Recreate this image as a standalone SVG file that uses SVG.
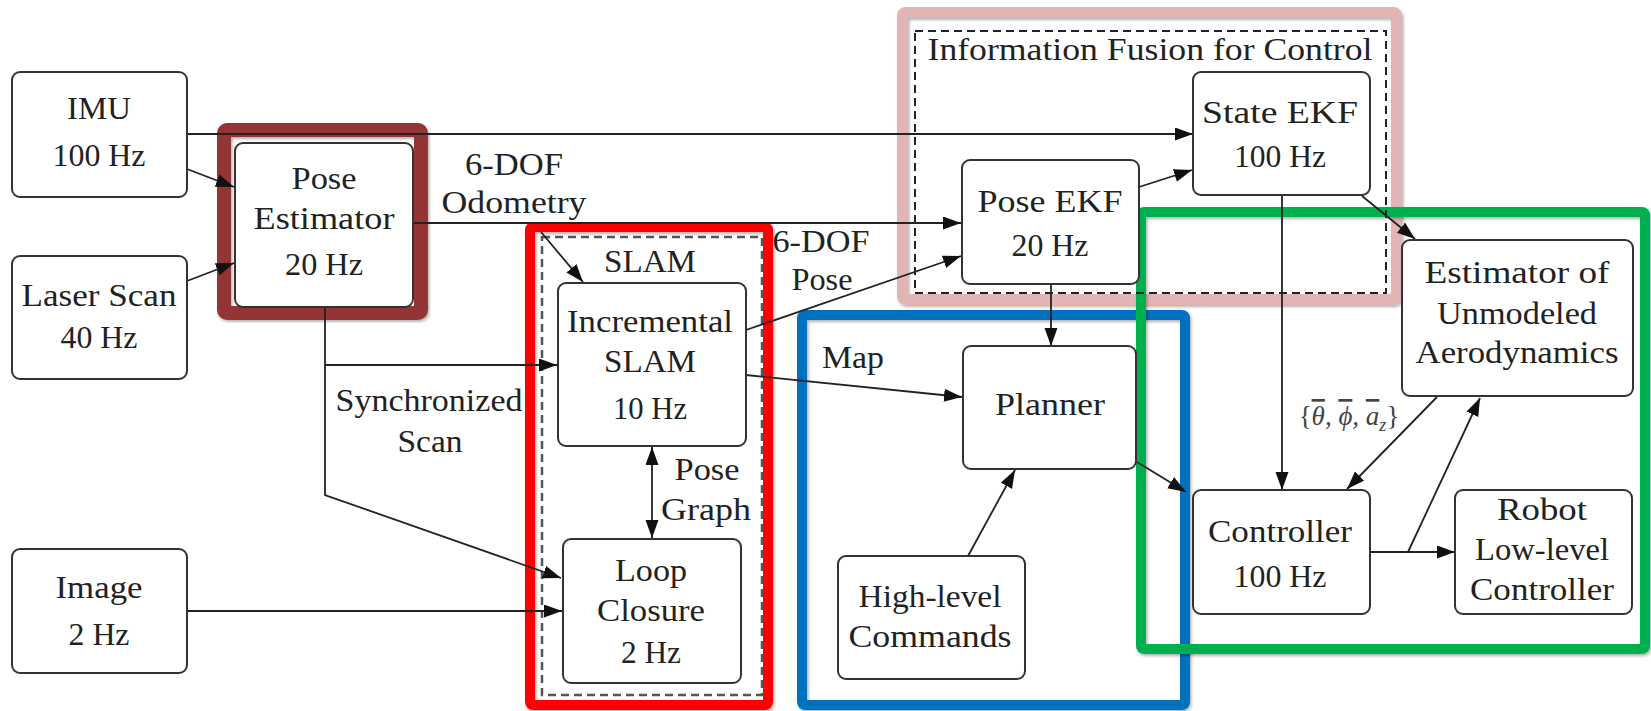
<svg xmlns="http://www.w3.org/2000/svg" width="1651" height="711" viewBox="0 0 1651 711">
<defs>
<marker id="arr" markerUnits="userSpaceOnUse" markerWidth="20" markerHeight="14" refX="18" refY="6.5" orient="auto-start-reverse">
<path d="M0,0 L18,6.5 L0,13 z" fill="#111"/>
</marker>
<filter id="sh" x="-5%" y="-5%" width="110%" height="110%">
<feDropShadow dx="1.5" dy="2" stdDeviation="1.5" flood-color="#000" flood-opacity="0.3"/>
</filter>
</defs>
<style>
text{font-family:"Liberation Serif","Times New Roman",serif;font-size:32px;fill:#222;text-anchor:middle}
.box{fill:#fff;stroke:#333;stroke-width:2}
.ln{fill:none;stroke:#222;stroke-width:1.8}
.ar{marker-end:url(#arr)}
.frame{fill:none;filter:url(#sh)}
.math{font-style:italic;font-size:27px;fill:#444}
</style>
<rect width="1651" height="711" fill="#fff"/>

<g id="highlights">
<rect class="frame" x="224" y="130" width="197" height="183" rx="3" stroke="#943634" stroke-width="14"/>
<rect class="frame" x="530" y="227" width="238" height="478" rx="3" stroke="#FF0000" stroke-width="10"/>
<rect class="frame" x="902.5" y="12.5" width="494" height="287" rx="3" stroke="#E3B4B4" stroke-width="11"/>
<rect class="frame" x="802" y="315" width="383" height="390" rx="3" stroke="#0070C0" stroke-width="10"/>
<rect class="frame" x="1141" y="212" width="504" height="437" rx="3" stroke="#00B050" stroke-width="10"/>
</g>

<g id="slam-group">
<rect x="542" y="237" width="220" height="458" fill="none" stroke="#555" stroke-width="2.5" stroke-dasharray="8 5"/>
<text x="650" y="272" textLength="92" lengthAdjust="spacingAndGlyphs">SLAM</text>
</g>
<g id="fusion-group">
<rect x="915" y="31" width="471" height="262" fill="none" stroke="#222" stroke-width="2" stroke-dasharray="8 5"/>
<text x="1150" y="60" textLength="445" lengthAdjust="spacingAndGlyphs">Information Fusion for Control</text>
</g>

<g id="connectors">
<path class="ln ar" d="M187,134 H1193"/>
<path class="ln ar" d="M187,169 L234,187"/>
<path class="ln ar" d="M187,281 L234,263"/>
<path class="ln ar" d="M413,223 H961"/>
<path class="ln ar" d="M541,232 L583,282"/>
<path class="ln ar" d="M325,307 V495 L561,578"/>
<path class="ln ar" d="M325,365 H557"/>
<path class="ln ar" d="M187,611 H562"/>
<path class="ln ar" d="M746,330 L961,256"/>
<path class="ln ar" d="M746,375 L962,397"/>
<path class="ln" d="M652,447 V538" marker-start="url(#arr)" marker-end="url(#arr)"/>
<path class="ln ar" d="M1139,187 L1192,170"/>
<path class="ln ar" d="M1362,196 L1415,239"/>
<path class="ln ar" d="M1051,284 V346"/>
<path class="ln ar" d="M968,556 L1015,470"/>
<path class="ln ar" d="M1137,462 L1186,492"/>
<path class="ln ar" d="M1282,195 V490"/>
<path class="ln ar" d="M1437,397 L1347,489"/>
<path class="ln ar" d="M1370,552 H1455"/>
<path class="ln ar" d="M1408,552 L1480,398"/>
<text class="math" x="1349" y="425"><tspan font-style="normal">{</tspan><tspan text-decoration="overline">θ</tspan>, <tspan text-decoration="overline">ϕ</tspan>, <tspan text-decoration="overline">a</tspan><tspan font-size="18" dy="6">z</tspan><tspan dy="-6" font-style="normal">}</tspan></text>
<text x="514" y="175" textLength="98" lengthAdjust="spacingAndGlyphs">6-DOF</text>
<text x="514" y="213" textLength="145" lengthAdjust="spacingAndGlyphs">Odometry</text>
<text x="429" y="411" textLength="187" lengthAdjust="spacingAndGlyphs">Synchronized</text>
<text x="430" y="452" textLength="65" lengthAdjust="spacingAndGlyphs">Scan</text>
<text x="707" y="480" textLength="65" lengthAdjust="spacingAndGlyphs">Pose</text>
<text x="706" y="520" textLength="90" lengthAdjust="spacingAndGlyphs">Graph</text>
<text x="821" y="252" textLength="97" lengthAdjust="spacingAndGlyphs">6-DOF</text>
<text x="822" y="290" textLength="61" lengthAdjust="spacingAndGlyphs">Pose</text>
<text x="853" y="368" textLength="62" lengthAdjust="spacingAndGlyphs">Map</text>
</g>

<g id="imu">
<rect class="box" x="12" y="72" width="175" height="125" rx="8"/>
<text x="99" y="119" textLength="64" lengthAdjust="spacingAndGlyphs">IMU</text>
<text x="99" y="166" textLength="93" lengthAdjust="spacingAndGlyphs">100 Hz</text>
</g>
<g id="laser-scan">
<rect class="box" x="12" y="256" width="175" height="123" rx="8"/>
<text x="99" y="306" textLength="155" lengthAdjust="spacingAndGlyphs">Laser Scan</text>
<text x="99" y="348" textLength="77" lengthAdjust="spacingAndGlyphs">40 Hz</text>
</g>
<g id="image">
<rect class="box" x="12" y="549" width="175" height="124" rx="8"/>
<text x="99" y="598" textLength="87" lengthAdjust="spacingAndGlyphs">Image</text>
<text x="99" y="645" textLength="61" lengthAdjust="spacingAndGlyphs">2 Hz</text>
</g>
<g id="pose-estimator">
<rect class="box" x="235" y="143" width="178" height="164" rx="8"/>
<text x="324" y="189" textLength="65" lengthAdjust="spacingAndGlyphs">Pose</text>
<text x="324" y="229" textLength="141" lengthAdjust="spacingAndGlyphs">Estimator</text>
<text x="324" y="275" textLength="78" lengthAdjust="spacingAndGlyphs">20 Hz</text>
</g>
<g id="incremental-slam">
<rect class="box" x="558" y="283" width="188" height="163" rx="8"/>
<text x="650" y="332" textLength="166" lengthAdjust="spacingAndGlyphs">Incremental</text>
<text x="650" y="372" textLength="92" lengthAdjust="spacingAndGlyphs">SLAM</text>
<text x="650" y="419" textLength="74" lengthAdjust="spacingAndGlyphs">10 Hz</text>
</g>
<g id="loop-closure">
<rect class="box" x="563" y="539" width="178" height="144" rx="8"/>
<text x="651" y="581" textLength="72" lengthAdjust="spacingAndGlyphs">Loop</text>
<text x="651" y="621" textLength="108" lengthAdjust="spacingAndGlyphs">Closure</text>
<text x="651" y="663" textLength="60" lengthAdjust="spacingAndGlyphs">2 Hz</text>
</g>
<g id="pose-ekf">
<rect class="box" x="962" y="160" width="177" height="124" rx="8"/>
<text x="1050" y="212" textLength="145" lengthAdjust="spacingAndGlyphs">Pose EKF</text>
<text x="1050" y="256" textLength="77" lengthAdjust="spacingAndGlyphs">20 Hz</text>
</g>
<g id="state-ekf">
<rect class="box" x="1193" y="72" width="177" height="123" rx="8"/>
<text x="1280" y="123" textLength="156" lengthAdjust="spacingAndGlyphs">State EKF</text>
<text x="1280" y="167" textLength="92" lengthAdjust="spacingAndGlyphs">100 Hz</text>
</g>
<g id="planner">
<rect class="box" x="963" y="346" width="173" height="123" rx="8"/>
<text x="1050" y="415" textLength="110" lengthAdjust="spacingAndGlyphs">Planner</text>
</g>
<g id="high-level-commands">
<rect class="box" x="838" y="556" width="187" height="123" rx="8"/>
<text x="930" y="607" textLength="143" lengthAdjust="spacingAndGlyphs">High-level</text>
<text x="930" y="647" textLength="163" lengthAdjust="spacingAndGlyphs">Commands</text>
</g>
<g id="estimator-aero">
<rect class="box" x="1402" y="240" width="231" height="156" rx="8"/>
<text x="1517" y="283" textLength="185" lengthAdjust="spacingAndGlyphs">Estimator of</text>
<text x="1517" y="324" textLength="160" lengthAdjust="spacingAndGlyphs">Unmodeled</text>
<text x="1517" y="363" textLength="203" lengthAdjust="spacingAndGlyphs">Aerodynamics</text>
</g>
<g id="controller">
<rect class="box" x="1193" y="490" width="177" height="124" rx="8"/>
<text x="1280" y="542" textLength="144" lengthAdjust="spacingAndGlyphs">Controller</text>
<text x="1280" y="587" textLength="93" lengthAdjust="spacingAndGlyphs">100 Hz</text>
</g>
<g id="robot-controller">
<rect class="box" x="1455" y="490" width="177" height="124" rx="8"/>
<text x="1542" y="520" textLength="90" lengthAdjust="spacingAndGlyphs">Robot</text>
<text x="1542" y="560" textLength="134" lengthAdjust="spacingAndGlyphs">Low-level</text>
<text x="1542" y="600" textLength="144" lengthAdjust="spacingAndGlyphs">Controller</text>
</g>
</svg>
